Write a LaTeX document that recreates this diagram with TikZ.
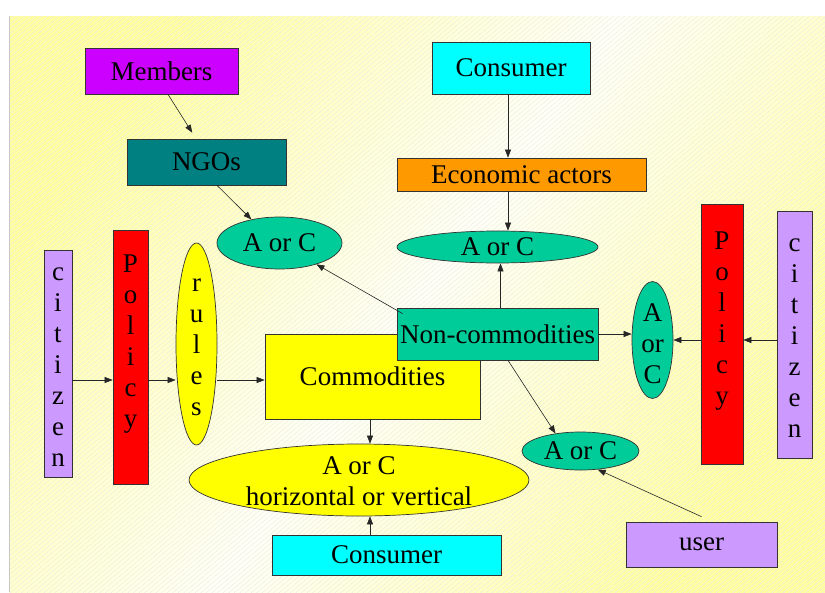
\documentclass[tikz,border=0pt]{standalone}
\usepackage{fontspec}
\setmainfont{Liberation Serif}
\usetikzlibrary{arrows.meta,shapes.geometric,calc,patterns.meta}
\definecolor{cMem}{HTML}{CC00FF}
\definecolor{cNgo}{HTML}{008080}
\definecolor{cCyan}{HTML}{00FFFF}
\definecolor{cOrange}{HTML}{FF9900}
\definecolor{cGreen}{HTML}{00CC99}
\definecolor{cYellow}{HTML}{FFFF00}
\definecolor{cRed}{HTML}{FF0000}
\definecolor{cLav}{HTML}{CC99FF}
\definecolor{bgY}{HTML}{FFFFA0}
\definecolor{bgW}{HTML}{FFFFF6}
\pgfdeclarehorizontalshading{bgshade}{100bp}{color(0bp)=(bgY); color(25bp)=(bgY); color(50bp)=(bgW); color(75bp)=(bgY); color(100bp)=(bgY)}
\tikzset{
  box/.style={rectangle, draw=black!80, line width=0.7pt, inner sep=0pt, font=\fontsize{27}{31}\selectfont},
  oval/.style={ellipse, draw=black!80, line width=0.7pt, inner sep=0pt, font=\fontsize{27}{31}\selectfont},
  vtext/.style={inner sep=0pt, align=center, font=\fontsize{27}{31}\selectfont},
  arr/.style={-{Triangle[length=8pt,width=6pt]}, line width=0.6pt, draw=black!85},
}
\begin{document}
\begin{tikzpicture}[x=1pt,y=-1pt]
\useasboundingbox (0,0) rectangle (825,592);
\fill[white] (0,0) rectangle (825,592);
\shade[shading=bgshade, shading angle=-35] (9,16) rectangle (825,592);
\fill[pattern={Lines[angle=40,distance=3.6pt,line width=0.35pt]}, pattern color=black!9] (9,16) rectangle (825,592);
\draw[black!22, line width=0.6pt] (9,16) -- (9,592);

% nodes
\node[box, fill=cMem, minimum width=153, minimum height=46] (members) at (161.5,71) {Members};
\node[box, fill=cNgo, minimum width=159, minimum height=46] (ngos) at (206.5,162) {NGOs};
\node[box, fill=cCyan, minimum width=158, minimum height=52] (consT) at (511,68) {Consumer};
\node[box, fill=cOrange, minimum width=249, minimum height=33] (econ) at (521.5,174.5) {Economic actors};
\node[oval, fill=cGreen, minimum width=125, minimum height=52] (aocL) at (279.5,243) {A or C};
\node[oval, fill=cGreen, minimum width=201, minimum height=32] (aocT) at (497.5,247) {A or C};
\node[box, fill=cYellow, minimum width=215, minimum height=85] (comm) at (372.5,376.5) {Commodities};
\node[box, fill=cGreen, minimum width=201, minimum height=52] (noncom) at (497.5,334) {Non-commodities};
\node[oval, fill=cGreen, minimum width=41, minimum height=117] (aocR) at (652.5,340) {};
\node[vtext] (aocRt) at (652.5,344) {A\\or\\C};
\node[box, fill=cRed, minimum width=42, minimum height=260] (policyR) at (722,334) {};
\node[vtext] (policyRt) at (722,321) {P\\o\\l\\i\\c\\y};
\node[box, fill=cLav, minimum width=35, minimum height=247] (citR) at (794.5,334.5) {};
\node[vtext] (citRt) at (794.5,338) {c\\i\\t\\i\\z\\e\\n};
\node[oval, fill=cGreen, minimum width=117, minimum height=38] (aocB) at (580.5,451) {A or C};
\node[box, fill=cLav, minimum width=151, minimum height=45] (user) at (701.5,544.5) {user};
\node[box, fill=cCyan, minimum width=229, minimum height=40] (consB) at (386.5,555) {Consumer};
\node[oval, fill=cYellow, minimum width=340, minimum height=72] (bigY) at (359,480) {};
\node[vtext] (bigYt) at (359,481) {A or C\\horizontal or vertical};
\node[box, fill=cLav, minimum width=28, minimum height=227] (citL) at (58,363.5) {};
\node[vtext] (citLt) at (58,367) {c\\i\\t\\i\\z\\e\\n};
\node[box, fill=cRed, minimum width=35, minimum height=254] (policyL) at (130.5,357) {};
\node[vtext] (policyLt) at (130.5,344) {P\\o\\l\\i\\c\\y};
\node[oval, fill=cYellow, minimum width=41, minimum height=202] (rules) at (196.5,344) {};
\node[vtext] (rulest) at (196.5,347) {r\\u\\l\\e\\s};

\coordinate (yline) at (0,380);

% connectors
\draw[arr, shorten >=7pt] ([xshift=6.5pt]members.south) -- ([xshift=-10.5pt]ngos.north);
\draw[arr] ([xshift=10.5pt]ngos.south) -- (aocL.140);
\draw[arr] ([xshift=-3pt]consT.south) -- ([xshift=-3pt]consT.south |- econ.north);
\draw[arr] ([xshift=-13.5pt]econ.south) -- ([xshift=-13.5pt]econ.south |- aocT.north);
\draw[arr] ([xshift=3pt]noncom.north) -- ([xshift=3pt]noncom.north |- aocT.south);
\draw[arr] ($(noncom.north west)+(6,6)$) -- (aocL.-30);
\draw[arr] (noncom.east) -- (noncom.east -| aocR.west);
\draw[arr] ([xshift=10.5pt]noncom.south) -- (aocB.145);
\draw[arr] ([yshift=5pt]user.north) -- (aocB.-47);
\draw[arr] (aocR.east -| policyR.west) -- (aocR.east);
\draw[arr] (aocR.east -| citR.west) -- (aocR.east -| policyR.east);
\draw[arr] ([xshift=-2.5pt]comm.south) -- ([xshift=-2.5pt]comm.south |- bigY.north);
\draw[arr] ([xshift=-16.5pt]consB.north) -- ([xshift=-16.5pt]consB.north |- bigY.south);
\draw[arr] (citL.east |- yline) -- (policyL.west |- yline);
\draw[arr] (policyL.east |- yline) -- (rules.west |- yline);
\draw[arr] (rules.east |- yline) -- (comm.west |- yline);
\end{tikzpicture}
\end{document}
